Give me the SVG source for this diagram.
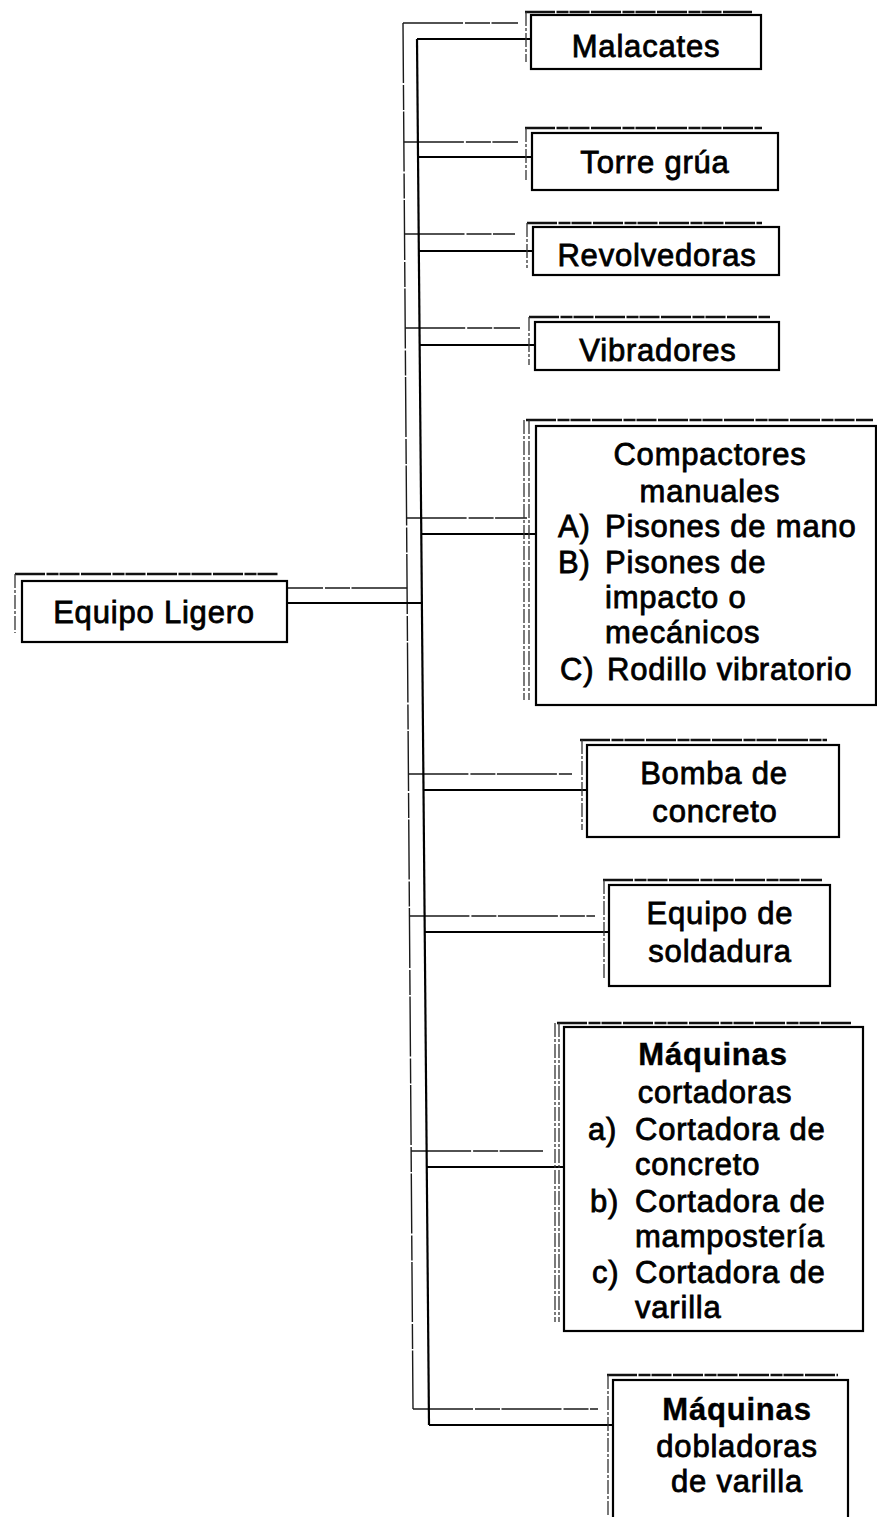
<svg xmlns="http://www.w3.org/2000/svg" width="877" height="1517" viewBox="0 0 877 1517">
<style>
.box{fill:#fff;stroke:#000;stroke-width:2.2}
.gt{fill:none;stroke:#111;stroke-width:2.6;stroke-dasharray:30 1.5 12 1 20 1.5}
.gl{fill:none;stroke:#333;stroke-width:1.3;stroke-dasharray:14 2 3 2}
.c{fill:none;stroke:#000;stroke-width:2.2}
.cg{fill:none;stroke:#1a1a1a;stroke-width:1.4;stroke-dasharray:60 2 25 1.5}
text{font-family:"Liberation Sans",Arial,sans-serif;font-size:31px;fill:#000;stroke:#000;stroke-width:0.8;letter-spacing:0.8px}
.m{text-anchor:middle}
.b{font-weight:bold;stroke-width:0.4}
</style>
<g id="connectors">
<path class="cg" d="M403,23 L413,1409"/>
<path class="cg" d="M403,23 H518 M403.9,142 H518 M404.5,234 H515 M405.2,328 H520 M406.6,518 H527 M263,588 H407.1 M408.4,774 H572 M409.4,916 H595 M411.1,1151 H543 M413,1409 H598"/>
<path class="c" d="M417,39 L429,1425"/>
<path class="c" d="M417,39 H531 M418,157 H532 M418.8,251 H533 M419.6,345 H535 M421.3,534 H536 M287,603 H421.9 M423.5,790 H587 M424.7,932 H609 M426.8,1167 H564 M429,1425 H613"/>
</g>
<g id="root">
<path class="gt" d="M15,574 H278"/><path class="gl" d="M15,574 V633"/>
<rect class="box" x="22" y="581" width="265" height="61"/>
<text class="m" x="154" y="623">Equipo Ligero</text>
</g>
<g id="malacates">
<path class="gt" d="M525,12 H752"/><path class="gl" d="M526,12 V62"/>
<rect class="box" x="531" y="15" width="230" height="54"/>
<text class="m" x="646" y="57">Malacates</text>
</g>
<g id="torre">
<path class="gt" d="M525,128 H762"/><path class="gl" d="M526,128 V180"/>
<rect class="box" x="532" y="133" width="246" height="57"/>
<text class="m" x="655" y="173">Torre grúa</text>
</g>
<g id="revolvedoras">
<path class="gt" d="M527,223 H762"/><path class="gl" d="M527,223 V268"/>
<rect class="box" x="533" y="227" width="246" height="48"/>
<text class="m" x="657" y="266">Revolvedoras</text>
</g>
<g id="vibradores">
<path class="gt" d="M529,317 H770"/><path class="gl" d="M529,317 V365"/>
<rect class="box" x="535" y="322" width="244" height="48"/>
<text class="m" x="658" y="361">Vibradores</text>
</g>
<g id="compactores">
<path class="gt" d="M526,420 H873"/><path class="gl" d="M524,420 V700 M529,420 V700"/>
<rect class="box" x="536" y="426" width="340" height="279"/>
<text class="m" x="710" y="465">Compactores</text>
<text class="m" x="710" y="502">manuales</text>
<text x="558" y="537">A)</text><text x="605" y="537">Pisones de mano</text>
<text x="558" y="573">B)</text><text x="605" y="573">Pisones de</text>
<text x="605" y="608">impacto o</text>
<text x="605" y="643">mecánicos</text>
<text x="560" y="680">C)</text><text x="607" y="680">Rodillo vibratorio</text>
</g>
<g id="bomba">
<path class="gt" d="M580,740 H827"/><path class="gl" d="M582,740 V830"/>
<rect class="box" x="587" y="745" width="252" height="92"/>
<text class="m" x="714" y="784">Bomba de</text>
<text class="m" x="715" y="822">concreto</text>
</g>
<g id="soldadura">
<path class="gt" d="M603,880 H822"/><path class="gl" d="M604,880 V978"/>
<rect class="box" x="609" y="885" width="221" height="101"/>
<text class="m" x="720" y="924">Equipo de</text>
<text class="m" x="720" y="962">soldadura</text>
</g>
<g id="cortadoras">
<path class="gt" d="M557,1023 H852"/><path class="gl" d="M555,1023 V1322 M559,1023 V1322"/>
<rect class="box" x="564" y="1027" width="299" height="304"/>
<text class="m b" x="713" y="1065">Máquinas</text>
<text class="m" x="715" y="1103">cortadoras</text>
<text x="588" y="1140">a)</text><text x="635" y="1140">Cortadora de</text>
<text x="635" y="1175">concreto</text>
<text x="590" y="1212">b)</text><text x="635" y="1212">Cortadora de</text>
<text x="635" y="1247">mampostería</text>
<text x="592" y="1283">c)</text><text x="635" y="1283">Cortadora de</text>
<text x="635" y="1318">varilla</text>
</g>
<g id="dobladoras">
<path class="gt" d="M607,1375 H838"/><path class="gl" d="M608,1375 V1517"/>
<rect class="box" x="613" y="1380" width="235" height="150"/>
<text class="m b" x="737" y="1420">Máquinas</text>
<text class="m" x="737" y="1457">dobladoras</text>
<text class="m" x="737" y="1492">de varilla</text>
</g>
</svg>
